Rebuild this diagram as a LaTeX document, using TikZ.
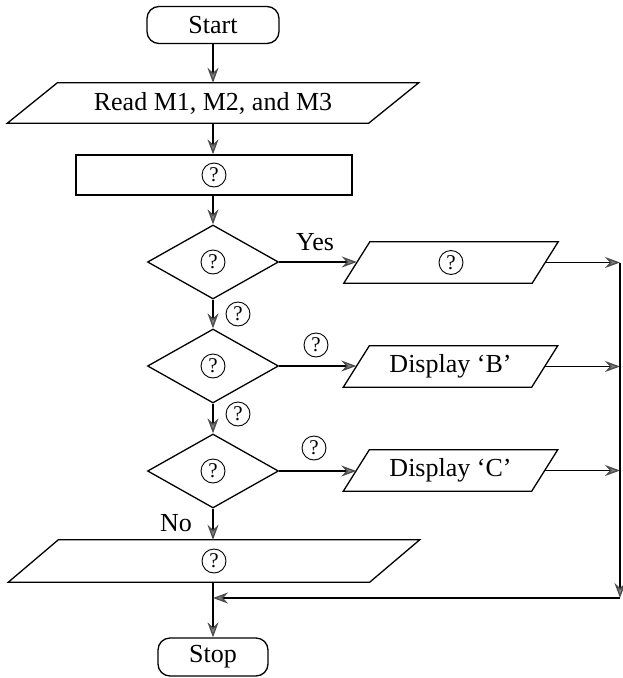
\documentclass[tikz,border=0pt]{standalone}
\usepackage{fontspec}
\setmainfont{Liberation Serif}
\usetikzlibrary{arrows.meta,shapes.geometric,calc}
\newcommand{\parashape}[2]{\draw[line] ($(#1.south west)+(-#2,0)$) -- ($(#1.south east)+(-#2,0)$) -- ($(#1.north east)+(#2,0)$) -- ($(#1.north west)+(#2,0)$) -- cycle;}
\begin{document}
\begin{tikzpicture}[x=1pt,y=-1pt,
  line/.style={line width=1.3pt, draw=black},
  arr/.style={line, -{Stealth[length=15pt, width=11pt, inset=5pt, color=black!70, fill=black!50]}},
  txt/.style={font=\fontsize{26}{30}\selectfont, inner sep=0pt},
  term/.style={txt, line, rectangle, rounded corners=12pt, minimum height=37pt},
  proc/.style={txt, line, rectangle, minimum width=276pt, minimum height=40pt},
  dec/.style={txt, line, diamond, aspect=1.77, minimum width=131pt, minimum height=74pt},
  io/.style={txt, rectangle, minimum height=41pt},
  qm/.style={circle, draw=black, line width=0.9pt, minimum size=24pt, inner sep=0pt, font=\fontsize{21}{24}\selectfont},
  lbl/.style={txt}
]
\useasboundingbox (0,0) rectangle (623,678);

\node[term, minimum width=132pt] (start) at (213,25) {Start};
\node[io, minimum width=361pt, minimum height=40pt] (read) at (213,103) {Read M1, M2, and M3};
\node[proc] (proc) at (214,175) {};
\node[qm] (qproc) at (proc) {?};

\node[dec] (d1) at (213,262) {};
\node[qm] (qd1) at (d1) {?};
\node[dec] (d2) at (213,366) {};
\node[qm] (qd2) at (d2) {?};
\node[dec] (d3) at (213,471) {};
\node[qm] (qd3) at (d3) {?};

\node[io, minimum width=188pt] (p1) at (451,262.5) {};
\node[qm] (qp1) at (p1) {?};
\node[io, minimum width=188pt] (p2) at (450.5,366.5) {Display ‘B’};
\node[io, minimum width=188pt] (p3) at (450.5,470.5) {Display ‘C’};

\node[io, minimum width=361pt, minimum height=42pt] (out) at (214,561) {};
\node[qm] (qout) at (out) {?};

\node[term, minimum width=110pt, minimum height=38pt] (stop) at (213,657) {Stop};

\parashape{read}{25}
\parashape{p1}{13}
\parashape{p2}{13}
\parashape{p3}{13}
\parashape{out}{25}

% labels
\node[lbl] (yes) at (315,242) {Yes};
\node[qm] (q12) at (238,314) {?};
\node[qm] (q2r) at (316,345) {?};
\node[qm] (q23) at (238,414) {?};
\node[qm] (q3r) at (314,448) {?};
\node[lbl] (no) at (176,523) {No};

% coordinates of the return line
\coordinate (r1) at (620,262.5);
\coordinate (r2) at (620,366.5);
\coordinate (r3) at (620,470.5);
\coordinate (r4) at (620,598);
\coordinate (m) at (213,598);

% main flow
\draw[arr] (start.south) -- (read.north);
\draw[arr] (read.south) -- (read.south |- proc.north);
\draw[arr] (proc.south -| d1.north) -- (d1.north);
\draw[arr] (d1.south) -- (d2.north);
\draw[arr] (d2.south) -- (d3.north);
\draw[arr] (d3.south) -- (d3.south |- out.north);
\draw[arr] (out.south -| stop.north) -- (stop.north);

% branches
\draw[arr] (d1.east) -- (d1.east -| p1.west);
\draw[arr] (d2.east) -- (d2.east -| p2.west);
\draw[arr] (d3.east) -- (d3.east -| p3.west);
\draw[arr] (p1.east) -- (r1);
\draw[arr] (p2.east) -- (r2);
\draw[arr] (p3.east) -- (r3);
\draw[arr] (r1) -- (r4);
\draw[arr] (r4) -- (m);
\end{tikzpicture}
\end{document}
